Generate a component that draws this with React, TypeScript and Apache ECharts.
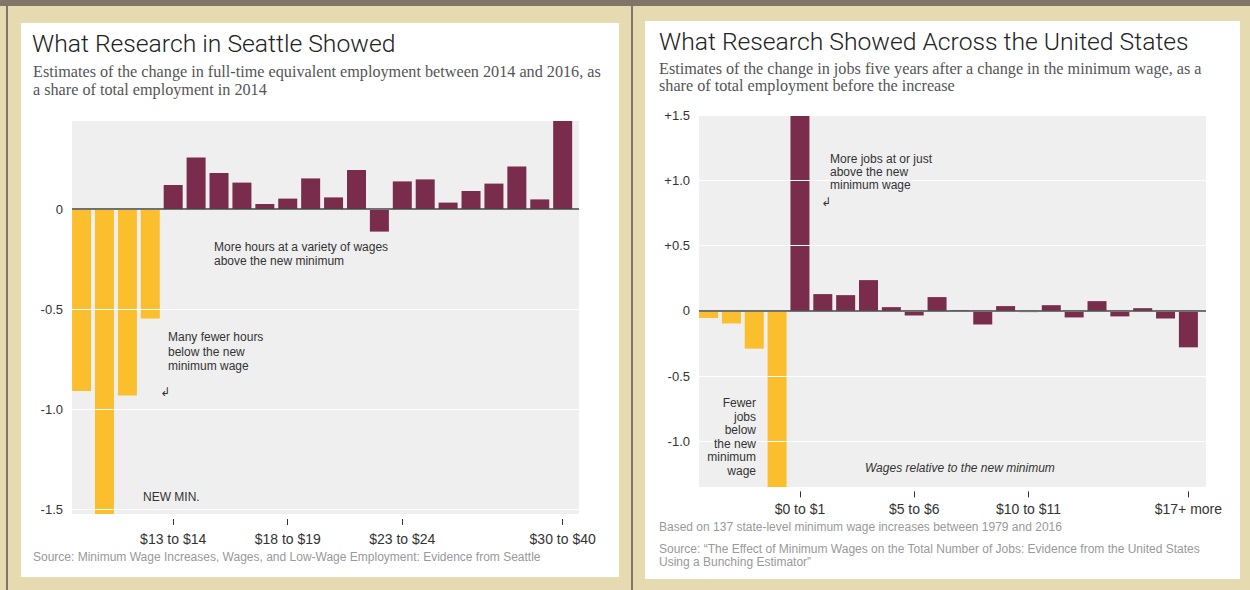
import React, { useEffect, useRef } from "react";
import * as echarts from "echarts";

// ---- Data ----
const seattleValues = [-0.91, -1.525, -0.933, -0.548, 0.12, 0.258, 0.18, 0.132, 0.025, 0.052, 0.153, 0.058, 0.195, -0.113, 0.138, 0.148, 0.032, 0.09, 0.127, 0.212, 0.048, 0.44];
const seattleTickIndex = [4, 9, 14, 21];
const seattleTickLabels = ["$13 to $14", "$18 to $19", "$23 to $24", "$30 to $40"];
const seattleBelowCount = 4;

const usValues = [-0.055, -0.097, -0.29, -1.35, 1.5, 0.128, 0.12, 0.235, 0.028, -0.036, 0.105, 0.004, -0.105, 0.036, -0.01, 0.043, -0.051, 0.074, -0.043, 0.02, -0.059, -0.28];
const usTickIndex = [4, 9, 14, 21];
const usTickLabels = ["$0 to $1", "$5 to $6", "$10 to $11", "$17+ more"];
const usBelowCount = 4;

const YELLOW = "#FBBE2D";
const PURPLE = "#7A2C4D";
const BEIGE = "#E6DBB0";
const DARK = "#807568";
const SANS = '"Liberation Sans", Arial, sans-serif';
const SERIF = '"Liberation Serif", "Times New Roman", serif';
const TITLE_FONT = `300 24.7px Roboto, ${SANS}`;
const SUB_FONT = `16.2px ${SERIF}`;

function txt(text: string, x: number, y: number, o: any = {}) {
  return {
    type: "text",
    z: 100,
    style: {
      text,
      x,
      y,
      fill: o.fill || "#333",
      font: o.font || `12px ${SANS}`,
      align: o.align || "left",
      verticalAlign: "middle",
      textAlign: o.align || "left",
      textVerticalAlign: "middle",
    },
  };
}

export default function App() {
  const ref = useRef<HTMLDivElement>(null);
  useEffect(() => {
    if (!ref.current) return;
    const chart = echarts.init(ref.current, undefined, { renderer: "svg" });

    const mkX = (gridIndex: number, min: number, max: number, offset: number, ticks: number[], labels: string[], margin: number) => ({
      type: "value",
      gridIndex,
      min,
      max,
      offset,
      position: "bottom",
      axisLine: { show: false, onZero: false },
      splitLine: { show: false },
      axisTick: { show: true, customValues: ticks, length: 6, lineStyle: { color: "#333", width: 1 } },
      axisLabel: {
        customValues: ticks,
        margin,
        fontSize: 14,
        fontFamily: SANS,
        color: "#333",
        formatter: (v: number) => labels[ticks.indexOf(Math.round(v))] || "",
      },
      z: 4,
    });

    const mkY = (gridIndex: number, min: number, max: number, splitNumber: number, plus: boolean, showMax: boolean) => ({
      type: "value",
      gridIndex,
      min,
      max,
      splitNumber,
      z: 3,
      axisLine: { show: false },
      axisTick: { show: false },
      splitLine: { show: true, showMinLine: false, showMaxLine: showMax, lineStyle: { color: "#fff", width: 1 } },
      axisLabel: {
        showMinLabel: false,
        showMaxLabel: showMax,
        margin: 9,
        fontSize: 13,
        fontFamily: SANS,
        color: "#333",
        formatter: (v: number) => (Math.abs(v) < 1e-9 ? "0" : (plus && v > 0 ? "+" : "") + v.toFixed(1)),
      },
    });

    const mkSeries = (idx: number, values: number[], below: number) => ({
      type: "bar",
      xAxisIndex: idx,
      yAxisIndex: idx,
      barWidth: 19,
      z: 2,
      data: values.map((v, i) => [i, v]),
      itemStyle: { color: (p: any) => (p.dataIndex < below ? YELLOW : PURPLE) },
      markLine: {
        silent: true,
        z: 5,
        symbol: ["none", "none"],
        label: { show: false },
        lineStyle: { color: "#444", width: 1.5, type: "solid" },
        data: [{ yAxis: 0 }],
      },
    });

    const graphics: any[] = [
      { type: "rect", z: 0, z2: 0, shape: { x: 0, y: 0, width: 1250, height: 6 }, style: { fill: DARK } },
      { type: "rect", z: 0, z2: 0, shape: { x: 6, y: 6, width: 2, height: 584 }, style: { fill: DARK } },
      { type: "rect", z: 0, z2: 0, shape: { x: 631, y: 6, width: 2, height: 584 }, style: { fill: DARK } },
      { type: "rect", z: 0, z2: 0, shape: { x: 21, y: 23, width: 598, height: 554 }, style: { fill: "#fff" } },
      { type: "rect", z: 0, z2: 0, shape: { x: 645, y: 21, width: 595, height: 558 }, style: { fill: "#fff" } },
      // left panel texts
      txt("What Research in Seattle Showed", 32, 43, { font: TITLE_FONT, fill: "#222" }),
      txt("Estimates of the change in full-time equivalent employment between 2014 and 2016, as", 33, 72, { font: SUB_FONT, fill: "#555" }),
      txt("a share of total employment in 2014", 33, 90, { font: SUB_FONT, fill: "#555" }),
      txt("More hours at a variety of wages", 214, 247),
      txt("above the new minimum", 214, 261),
      txt("Many fewer hours", 168, 337),
      txt("below the new", 168, 351.5),
      txt("minimum wage", 168, 366),
      txt("↲", 160, 392, { font: `12px "DejaVu Sans", ${SANS}` }),
      txt("NEW MIN.", 143, 497),
      txt("Source: Minimum Wage Increases, Wages, and Low-Wage Employment: Evidence from Seattle", 33, 557, { fill: "#999" }),
      // right panel texts
      txt("What Research Showed Across the United States", 659, 41, { font: TITLE_FONT, fill: "#222" }),
      txt("Estimates of the change in jobs five years after a change in the minimum wage, as a", 659, 69, { font: SUB_FONT, fill: "#555" }),
      txt("share of total employment before the increase", 659, 86, { font: SUB_FONT, fill: "#555" }),
      txt("More jobs at or just", 830, 158.5),
      txt("above the new", 830, 172),
      txt("minimum wage", 830, 185),
      txt("↲", 821, 202, { font: `12px "DejaVu Sans", ${SANS}` }),
      txt("Fewer", 756, 403, { align: "right" }),
      txt("jobs", 756, 416.5, { align: "right" }),
      txt("below", 756, 430, { align: "right" }),
      txt("the new", 756, 443.5, { align: "right" }),
      txt("minimum", 756, 457, { align: "right" }),
      txt("wage", 756, 470.5, { align: "right" }),
      txt("Wages relative to the new minimum", 865, 468, { font: `italic 12px ${SANS}` }),
      txt("Based on 137 state-level minimum wage increases between 1979 and 2016", 659, 527, { fill: "#999" }),
      txt("Source: \u201CThe Effect of Minimum Wages on the Total Number of Jobs: Evidence from the United States", 659, 549, { fill: "#999" }),
      txt("Using a Bunching Estimator\u201D", 659, 562, { fill: "#999" }),
    ];

    chart.setOption({
      animation: false,
      backgroundColor: BEIGE,
      grid: [
        { left: 72, top: 121, width: 507, height: 393, show: true, backgroundColor: "#efefef", borderWidth: 0, z: 1 },
        { left: 699, top: 115, width: 507, height: 372, show: true, backgroundColor: "#efefef", borderWidth: 0, z: 1 },
      ],
      xAxis: [
        mkX(0, -0.417, 21.713, 5, seattleTickIndex, seattleTickLabels, 13),
        mkX(1, -0.418, 21.77, 4.4, usTickIndex, usTickLabels, 11),
      ],
      yAxis: [mkY(0, -1.525, 0.44, 4, false, false), mkY(1, -1.35, 1.5, 5, true, true)],
      graphic: { elements: graphics },
      series: [mkSeries(0, seattleValues, seattleBelowCount), mkSeries(1, usValues, usBelowCount)],
    });
    return () => chart.dispose();
  }, []);
  return <div ref={ref} style={{ position: "fixed", left: 0, top: 0, width: 1250, height: 590 }} />;
}
